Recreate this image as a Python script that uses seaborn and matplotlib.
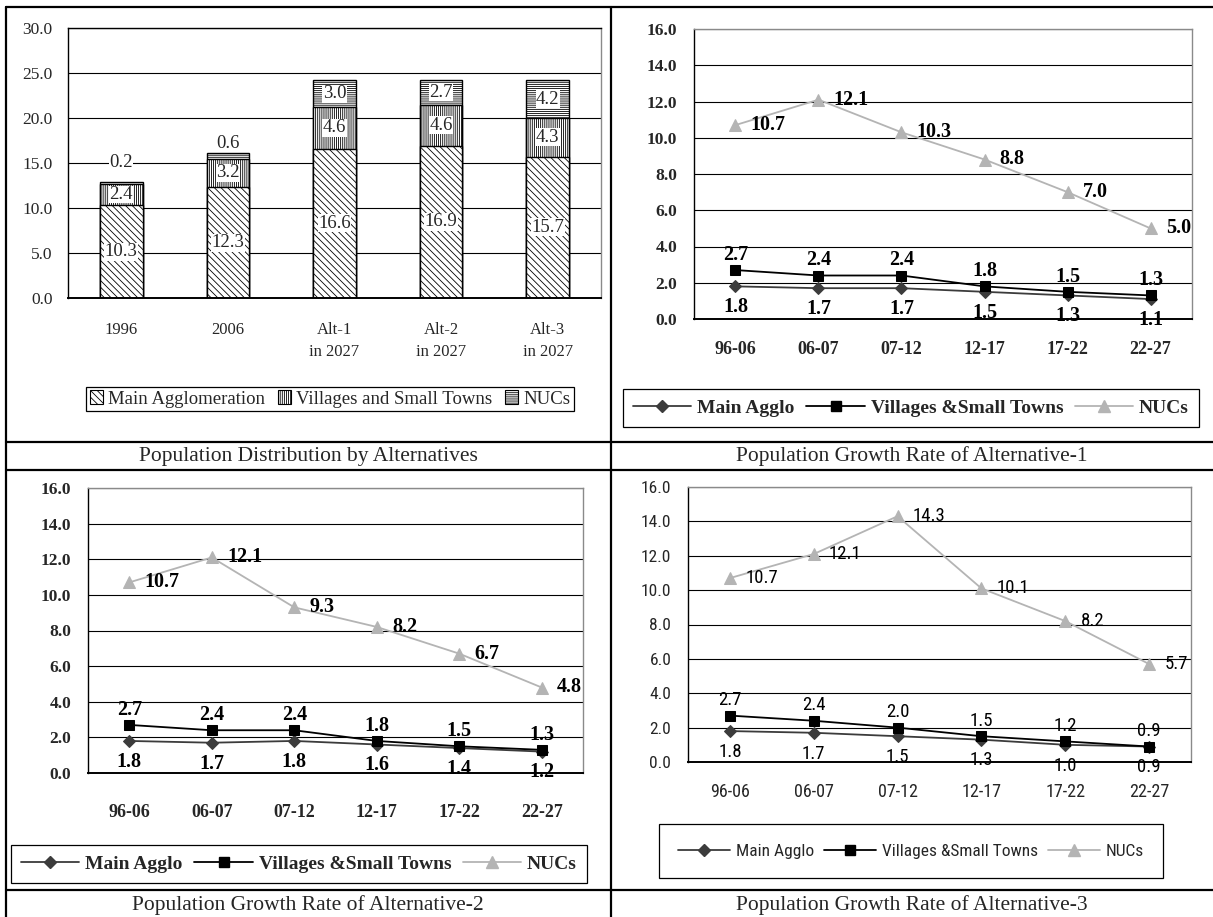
import numpy as np
import pandas as pd
import seaborn as sns
import matplotlib.pyplot as plt
from matplotlib import font_manager
from matplotlib.lines import Line2D
from matplotlib.patches import Patch

# ---------------- data ----------------
years = ["1996", "2006", "Alt-1\nin 2027", "Alt-2\nin 2027", "Alt-3\nin 2027"]
main_agglo = [10.3, 12.3, 16.6, 16.9, 15.7]
villages = [2.4, 3.2, 4.6, 4.6, 4.3]
nucs = [0.2, 0.6, 3.0, 2.7, 4.2]

periods = ["96-06", "06-07", "07-12", "12-17", "17-22", "22-27"]
alt1_main = [1.8, 1.7, 1.7, 1.5, 1.3, 1.1]
alt1_villages = [2.7, 2.4, 2.4, 1.8, 1.5, 1.3]
alt1_nucs = [10.7, 12.1, 10.3, 8.8, 7.0, 5.0]

alt2_main = [1.8, 1.7, 1.8, 1.6, 1.4, 1.2]
alt2_villages = [2.7, 2.4, 2.4, 1.8, 1.5, 1.3]
alt2_nucs = [10.7, 12.1, 9.3, 8.2, 6.7, 4.8]

alt3_main = [1.8, 1.7, 1.5, 1.3, 1.0, 0.9]
alt3_villages = [2.7, 2.4, 2.0, 1.5, 1.2, 0.9]
alt3_nucs = [10.7, 12.1, 14.3, 10.1, 8.2, 5.7]

series_names = ["Main Agglo", "Villages &Small Towns", "NUCs"]
bar_names = ["Main Agglomeration", "Villages and Small Towns", "NUCs"]
captions = ["Population Distribution by Alternatives",
            "Population Growth Rate of Alternative-1",
            "Population Growth Rate of Alternative-2",
            "Population Growth Rate of Alternative-3"]

# ---------------- style ----------------
sns.set_theme(style="white")
SERIF = ["Liberation Serif", "DejaVu Serif"]
plt.rcParams["font.family"] = SERIF
plt.rcParams["hatch.linewidth"] = 0.6


def pick_narrow():
    """Choose a condensed sans-serif face for the third growth panel."""
    fl = font_manager.fontManager.ttflist
    for nm in ("Liberation Sans Narrow", "Roboto Condensed", "Open Sans Condensed"):
        if any(f.name == nm for f in fl):
            return [nm], "normal"
    for nm in ("DejaVu Sans", "Roboto", "Open Sans", "Noto Sans"):
        if any(f.name == nm and str(f.stretch) in ("condensed", "semi-condensed")
               for f in fl):
            return [nm], "condensed"
    return ["Liberation Sans", "DejaVu Sans"], "normal"


NARROW, NARROW_STRETCH = pick_narrow()

MAIN_C = "#3c3c3c"
VILL_C = "#000000"
NUC_C = "#b4b4b4"

W, H = 1213, 917
fig = plt.figure(figsize=(W / 100, H / 100), dpi=100)


def box(x0, y0, x1, y1):
    """Pixel rectangle (top-left origin) -> figure fraction rect."""
    return [x0 / W, 1 - y1 / H, (x1 - x0) / W, (y1 - y0) / H]


def fx(x):
    return x / W


def fy(y):
    return 1 - y / H


# ---------------- table frame ----------------
frame_kw = dict(color="black", linewidth=1.6, transform=fig.transFigure)
fig.add_artist(Line2D([fx(6), fx(6)], [fy(7), fy(917)], **frame_kw))
fig.add_artist(Line2D([fx(611), fx(611)], [fy(7), fy(917)], **frame_kw))
for yy in (7, 442, 470, 890):
    fig.add_artist(Line2D([fx(6), fx(1213)], [fy(yy), fy(yy)], **frame_kw))

for (cx, cy), text in zip([(308, 456), (912, 456), (308, 905), (912, 905)], captions):
    fig.text(fx(cx), fy(cy), text, ha="center", va="center", fontsize=15.5,
             family=SERIF)


def style_frame(ax):
    for side in ("top", "right"):
        ax.spines[side].set_color("#8a8a8a")
        ax.spines[side].set_linewidth(1.0)
    ax.spines["left"].set_color("black")
    ax.spines["left"].set_linewidth(1.0)
    ax.spines["bottom"].set_color("black")
    ax.spines["bottom"].set_linewidth(1.4)
    ax.yaxis.grid(True, color="black", linewidth=0.8)
    ax.xaxis.grid(False)
    ax.set_axisbelow(True)
    ax.set_xlabel("")
    ax.set_ylabel("")


# ---------------- stacked bar panel ----------------
ax0 = fig.add_axes(box(68, 28, 601, 298))
df = pd.DataFrame({"year": years, "main": main_agglo, "vill": villages, "nuc": nucs})
df["mv"] = df["main"] + df["vill"]
df["total"] = df["mv"] + df["nuc"]

bar_kw = dict(color="white", edgecolor="black", linewidth=1.0, width=0.4,
              saturation=1, errorbar=None, ax=ax0, order=years)
sns.barplot(data=df, x="year", y="total", hatch="--------", **bar_kw)
sns.barplot(data=df, x="year", y="mv", hatch="||||||||", **bar_kw)
sns.barplot(data=df, x="year", y="main", hatch="\\\\\\\\\\", **bar_kw)

ax0.set_xlim(-0.5, len(years) - 0.5)
ax0.set_ylim(0, 30)
ax0.set_yticks(np.arange(0, 30.1, 5))
ax0.set_yticklabels([f"{v:.1f}" for v in np.arange(0, 30.1, 5)], fontsize=12.5)
ax0.set_xticks(range(len(years)))
ax0.set_xticklabels(years, fontsize=12, linespacing=1.55)
ax0.set_xticks(np.arange(0.5, len(years) - 1, 1), minor=True)
ax0.tick_params(axis="x", which="major", length=0, pad=17)
ax0.tick_params(axis="x", which="minor", direction="in", length=5, width=1, color="black")
ax0.tick_params(axis="y", length=0, pad=11)
style_frame(ax0)
ax0.spines["top"].set_color("black")

# lift (points) for the thin top segments whose value sits above the bar
small_lift = [14, 7, 0, 0, 0]
lbl_kw = dict(ha="center", va="center", fontsize=13.5,
              bbox=dict(facecolor="white", edgecolor="none", pad=0.3))
for i in range(len(years)):
    ax0.text(i, main_agglo[i] / 2, f"{main_agglo[i]:.1f}", **lbl_kw)
    ax0.text(i, main_agglo[i] + villages[i] / 2, f"{villages[i]:.1f}", **lbl_kw)
    top = main_agglo[i] + villages[i]
    if nucs[i] < 1:
        ax0.annotate(f"{nucs[i]:.1f}", (i, top + nucs[i]), xytext=(0, small_lift[i]),
                     textcoords="offset points", **lbl_kw)
    else:
        ax0.text(i, top + nucs[i] / 2, f"{nucs[i]:.1f}", **lbl_kw)

bar_handles = [Patch(facecolor="white", edgecolor="black", hatch=h, linewidth=0.8)
               for h in ("\\\\\\\\\\", "||||||||", "--------")]
leg0 = ax0.legend(bar_handles, bar_names, loc="center", ncol=3,
                  bbox_to_anchor=(fx(330), fy(399)), bbox_transform=fig.transFigure,
                  frameon=True, fancybox=False, edgecolor="black", framealpha=1,
                  handlelength=0.7, handleheight=0.7, handletextpad=0.3,
                  columnspacing=0.65, borderpad=0.2, borderaxespad=0,
                  prop=dict(family=SERIF, size=13.5))
leg0.get_frame().set_linewidth(0.9)


# ---------------- growth-rate panels ----------------
def growth_panel(rect, main, vill, nuc, family, weight, stretch, xpad, legend_xy,
                 leg_pad, leg_size, label_size):
    ax = fig.add_axes(box(*rect))
    pos = np.arange(len(periods))
    data = pd.DataFrame({"pos": pos, "main": main, "vill": vill, "nuc": nuc})

    sns.lineplot(data=data, x="pos", y="nuc", color=NUC_C, marker="^", markersize=8,
                 markeredgecolor=NUC_C, linewidth=1.3, sort=False, ax=ax, legend=False)
    sns.lineplot(data=data, x="pos", y="main", color=MAIN_C, marker="D", markersize=6,
                 markeredgecolor=MAIN_C, linewidth=1.3, sort=False, ax=ax, legend=False)
    sns.lineplot(data=data, x="pos", y="vill", color=VILL_C, marker="s", markersize=7,
                 markeredgecolor=VILL_C, linewidth=1.3, sort=False, ax=ax, legend=False)

    font = dict(family=family, weight=weight, stretch=stretch)
    ax.set_xlim(-0.5, len(periods) - 0.5)
    ax.set_ylim(0, 16)
    yt = np.arange(0, 16.1, 2)
    ax.set_yticks(yt)
    ax.set_yticklabels([f"{v:.1f}" for v in yt], fontsize=12.5, **font)
    ax.set_xticks(pos)
    ax.set_xticklabels(periods, fontsize=13, **font)
    ax.set_xticks(np.arange(0.5, len(periods) - 1, 1), minor=True)
    ax.tick_params(axis="x", which="major", length=0, pad=xpad)
    ax.tick_params(axis="x", which="minor", direction="in", length=5, width=1, color="black")
    ax.tick_params(axis="y", length=0, pad=12)
    style_frame(ax)

    txt = dict(fontsize=label_size, color="black", **font)
    for x, v in zip(pos, nuc):
        ax.annotate(f"{v:.1f}", (x, v), xytext=(11, 0), textcoords="offset points",
                    ha="left", va="center", **txt)
    for x, v in zip(pos, vill):
        ax.annotate(f"{v:.1f}", (x, v), xytext=(0, 11), textcoords="offset points",
                    ha="center", va="center", **txt)
    for x, v in zip(pos, main):
        ax.annotate(f"{v:.1f}", (x, v), xytext=(0, -15), textcoords="offset points",
                    ha="center", va="center", **txt)

    handles = [
        Line2D([], [], color=MAIN_C, marker="D", markersize=6, linewidth=1.3),
        Line2D([], [], color=VILL_C, marker="s", markersize=7, linewidth=1.3),
        Line2D([], [], color=NUC_C, marker="^", markersize=8, linewidth=1.3),
    ]
    leg = ax.legend(handles, series_names, loc="center", ncol=3,
                    bbox_to_anchor=(fx(legend_xy[0]), fy(legend_xy[1])),
                    bbox_transform=fig.transFigure, frameon=True, fancybox=False,
                    edgecolor="black", framealpha=1, handlelength=3.0,
                    handletextpad=0.3, columnspacing=0.6, borderpad=leg_pad,
                    borderaxespad=0, prop=dict(size=leg_size, **font))
    leg.get_frame().set_linewidth(0.9)
    return ax


growth_panel((694, 29, 1192, 319), alt1_main, alt1_villages, alt1_nucs,
             SERIF, "bold", "normal", 16, (911, 408), 0.5, 14, 14.5)
growth_panel((88, 488, 583, 773), alt2_main, alt2_villages, alt2_nucs,
             SERIF, "bold", "normal", 22, (299, 864), 0.5, 14, 14.5)
growth_panel((688, 487, 1191, 762), alt3_main, alt3_villages, alt3_nucs,
             NARROW, "normal", NARROW_STRETCH, 15, (911, 851), 1.1, 12.5, 13.5)

fig.savefig("out.png", dpi=100, facecolor="white")
